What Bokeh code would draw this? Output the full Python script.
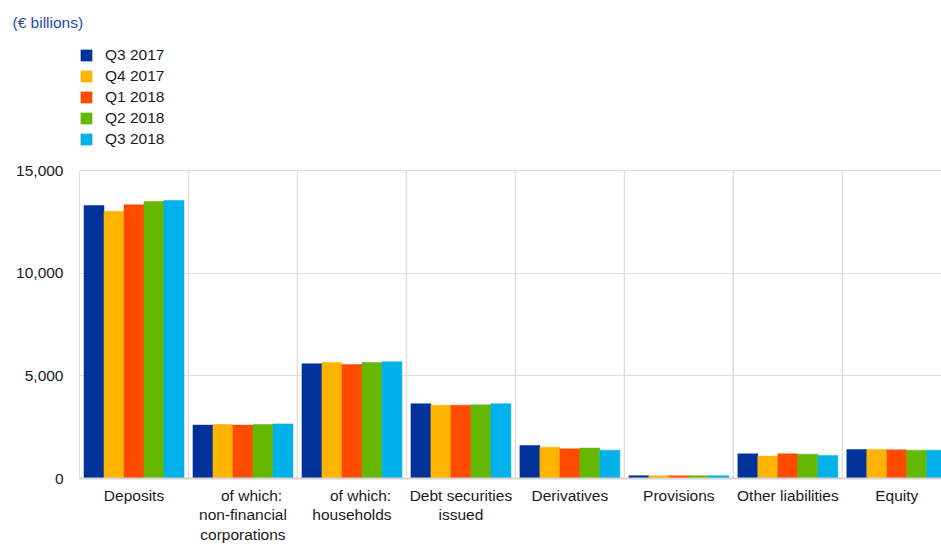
from bokeh.plotting import figure
from bokeh.models import (Range1d, FixedTicker, Legend, LegendItem,
                          NumeralTickFormatter)
from bokeh.embed import file_html
from bokeh.resources import INLINE

# Euro area banks: main liabilities (EUR billions)
categories = [
    "Deposits",
    "\u00a0\u00a0\u00a0\u00a0of which:\nnon-financial\ncorporations",
    "\u00a0\u00a0\u00a0\u00a0of which:\nhouseholds",
    "Debt securities\nissued",
    "Derivatives",
    "Provisions",
    "Other liabilities",
    "Equity",
]
quarters = ["Q3 2017", "Q4 2017", "Q1 2018", "Q2 2018", "Q3 2018"]
colors = ["#003299", "#ffb400", "#ff4b00", "#65b800", "#00b1ea"]
y_ticks = [0, 5000, 10000, 15000]

q3_2017 = [13300, 2600, 5590, 3640, 1610, 140, 1200, 1410]
q4_2017 = [13020, 2630, 5650, 3570, 1525, 130, 1090, 1410]
q1_2018 = [13330, 2600, 5550, 3570, 1445, 130, 1200, 1395]
q2_2018 = [13490, 2630, 5650, 3590, 1480, 130, 1185, 1380]
q3_2018 = [13540, 2660, 5680, 3640, 1380, 130, 1120, 1380]
series = [q3_2017, q4_2017, q1_2018, q2_2018, q3_2018]

FONT = "Liberation Sans"
GRID = "#dedede"

# the frame reaches up to the header so that the legend can sit inside it;
# value axis, grid and bars stay within 0..15,000
y_top = max(y_ticks)
plot_px = 308.0
header_px = 130.0
y_max = y_top * (plot_px + header_px) / plot_px

p = figure(width=941, height=556, output_backend="svg", toolbar_location=None,
           x_range=Range1d(0, 7.91), y_range=Range1d(0, y_max),
           min_border_left=79, min_border_right=0, min_border_top=40,
           min_border_bottom=78, outline_line_color=None,
           title="(\u20ac billions)")

p.title.align = "left"
p.title.offset = -67
p.title.standoff = 19
p.title.text_font = FONT
p.title.text_font_size = "15.5px"
p.title.text_font_style = "normal"
p.title.text_color = "#1f4aa8"

# vertical separators between categories
bounds = list(range(1, len(categories)))
p.segment(x0=bounds, y0=[0] * len(bounds), x1=bounds, y1=[y_top] * len(bounds),
          line_color=GRID, line_width=1.5)

bar_w = 0.1835
items = []
for i, (name, vals, col) in enumerate(zip(quarters, series, colors)):
    xs = [k + 0.5 + (i - 2) * bar_w for k in range(len(categories))]
    r = p.vbar(x=xs, top=vals, width=bar_w, bottom=0,
               fill_color=col, line_color=col, line_width=0.5)
    items.append(LegendItem(label=name, renderers=[r]))

# axes
p.xaxis.ticker = FixedTicker(ticks=[k + 0.5 for k in range(len(categories))])
p.xaxis.major_label_overrides = {k + 0.5: c for k, c in enumerate(categories)}
p.xaxis.major_tick_line_color = None
p.xaxis.minor_tick_line_color = None
p.xaxis.axis_line_color = "#d4d4d4"
p.xaxis.axis_line_width = 2
p.xaxis.major_label_standoff = 2
p.xaxis.major_label_text_font = FONT
p.xaxis.major_label_text_font_size = "15.5px"
p.xaxis.major_label_text_line_height = 1.15
p.xaxis.major_label_text_color = "#1a1a1a"

p.yaxis.ticker = FixedTicker(ticks=y_ticks)
p.yaxis.bounds = (0, y_top)
p.yaxis.formatter = NumeralTickFormatter(format="0,0")
p.yaxis.major_tick_line_color = None
p.yaxis.minor_tick_line_color = None
p.yaxis.axis_line_color = GRID
p.yaxis.axis_line_width = 1
p.yaxis.major_label_standoff = 10
p.yaxis.major_label_text_font = FONT
p.yaxis.major_label_text_font_size = "15.5px"
p.yaxis.major_label_text_color = "#1a1a1a"

p.ygrid.ticker = FixedTicker(ticks=y_ticks)
p.ygrid.grid_line_color = GRID
p.ygrid.grid_line_width = 1
p.xgrid.visible = False

legend = Legend(items=items, location=(0, 329), orientation="vertical",
                glyph_width=14, glyph_height=14, label_standoff=12,
                label_height=21, spacing=0, padding=0, margin=0,
                label_text_font=FONT, label_text_font_size="15.5px",
                label_text_color="#1a1a1a",
                border_line_alpha=0, background_fill_alpha=0)
p.add_layout(legend)

open("out.html", "w").write(file_html(p, INLINE))
